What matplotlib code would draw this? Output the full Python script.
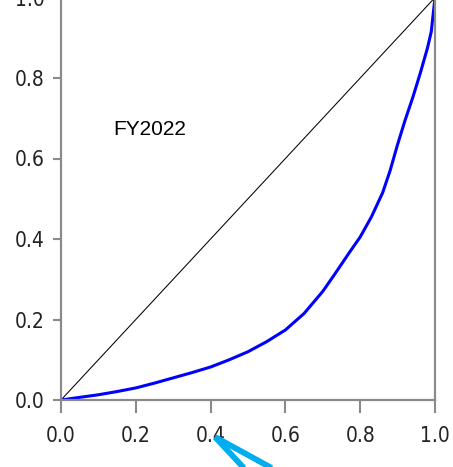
import numpy as np
import matplotlib
matplotlib.use("Agg")
import matplotlib.pyplot as plt

# Lorenz curve
pop_share = [0.0, 0.03, 0.1, 0.15, 0.2, 0.25, 0.3, 0.35, 0.4, 0.45, 0.5,
             0.55, 0.6, 0.65, 0.7, 0.73, 0.77, 0.8, 0.83, 0.86, 0.88,
             0.9, 0.92, 0.94, 0.96, 0.98, 0.99, 1.0]
income_share = [0.0, 0.004, 0.013, 0.021, 0.03, 0.042, 0.055, 0.068, 0.082,
                0.1, 0.12, 0.145, 0.174, 0.215, 0.27, 0.31, 0.365, 0.405,
                0.455, 0.515, 0.57, 0.635, 0.695, 0.75, 0.81, 0.875,
                0.915, 1.0]
ticks = [0.0, 0.2, 0.4, 0.6, 0.8, 1.0]
tick_labels = ["0.0", "0.2", "0.4", "0.6", "0.8", "1.0"]
label = "FY2022"

grey = "#8a8a8a"
tick_kw = dict(family=["DejaVu Sans"], fontstretch="condensed",
               fontsize=15, color="#222222")

fig = plt.figure(figsize=(4.53, 4.67), dpi=100)
ax = fig.add_axes([61 / 453, 67 / 467, 374 / 453, 402.5 / 467])

ax.plot([0, 1], [0, 1], color="black", lw=0.75)
ax.plot(pop_share, income_share, color="#0000ff", lw=2.2)
ax.text(0.238, 0.672, label, fontsize=15, ha="center", va="center",
        family=["Liberation Sans", "DejaVu Sans"])

ax.set_xlim(0, 1)
ax.set_ylim(0, 1)
ax.set_xticks(ticks)
ax.set_yticks(ticks)
ax.set_xticklabels(tick_labels, **tick_kw)
ax.set_yticklabels(tick_labels, **tick_kw)
ax.tick_params(axis="x", length=9, width=1.5, color=grey, pad=10)
ax.tick_params(axis="y", length=6, width=1.5, color=grey, pad=6)
for s in ax.spines.values():
    s.set_color(grey)
    s.set_linewidth(1.6)

# cyan pointer at the bottom
tip = (0.412, -0.092)
for end in [(0.50, -0.18), (0.585, -0.18)]:
    ax.plot([tip[0], end[0]], [tip[1], end[1]], color="#00aeef", lw=4.2,
            solid_capstyle="butt", clip_on=False)

fig.savefig("out.png", dpi=100)
